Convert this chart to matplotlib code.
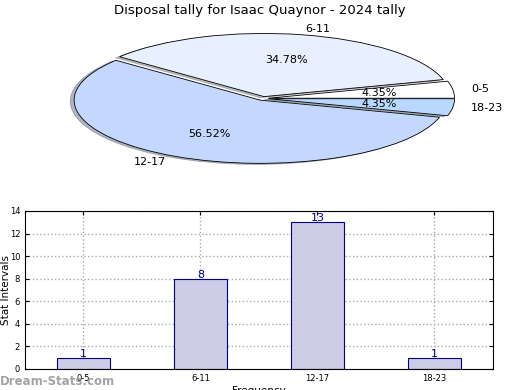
import matplotlib
matplotlib.use("Agg")
import matplotlib.pyplot as plt

intervals = ['0-5', '6-11', '12-17', '18-23']
counts = [1, 8, 13, 1]
pie_colors = ['#ffffff', '#e8f0ff', '#c4d8ff', '#b8d8ff']

fig = plt.figure(figsize=(5.2, 3.9), dpi=100)

# pie on top, squashed into a wide axes
ax1 = fig.add_axes([0.058, 0.545, 0.895, 0.405])
ax1.pie(counts, labels=intervals, colors=pie_colors, autopct='%.2f%%',
        explode=[0.03] * 4, shadow={'ox': -0.015, 'oy': -0.012, 'shade': 0.5},
        startangle=0,
        wedgeprops={'edgecolor': 'black', 'linewidth': 0.6},
        textprops={'fontsize': 8})
ax1.set_aspect('auto')
ax1.set_xlim(-1.25, 1.25)
ax1.set_ylim(-1.25, 1.25)
fig.suptitle("Disposal tally for Isaac Quaynor - 2024 tally", fontsize=9.5, y=0.99)

# bar chart underneath
ax2 = fig.add_axes([0.048, 0.054, 0.9, 0.405])
x = range(len(intervals))
ax2.bar(x, counts, width=0.45, color='#ccccE6', edgecolor='#000080', linewidth=0.8, zorder=2)
for i, c in zip(x, counts):
    ax2.text(i, c - 0.1, str(c), ha='center', va='bottom', fontsize=8, color='#00008b', zorder=3)
ax2.set_xlim(-0.5, 3.5)
ax2.set_ylim(0, 14)
ax2.set_xticks(list(x))
ax2.set_xticklabels(intervals)
ax2.set_yticks(range(0, 15, 2))
ax2.tick_params(labelsize=6, direction='in', top=True, right=True, length=3)
ax2.grid(True, linestyle=':', color='#aaaaaa', linewidth=1, zorder=0)
ax2.set_ylabel("Stat Intervals", fontsize=7.5)
ax2.yaxis.set_label_coords(-0.03, 0.5)
ax2.set_xlabel("Frequency", fontsize=7.5, labelpad=2)

fig.text(0.0, 0.012, "Dream-Stats.com", fontsize=8.5, color='#999999', fontweight='bold', alpha=0.9)

fig.savefig("out.png", dpi=100)
